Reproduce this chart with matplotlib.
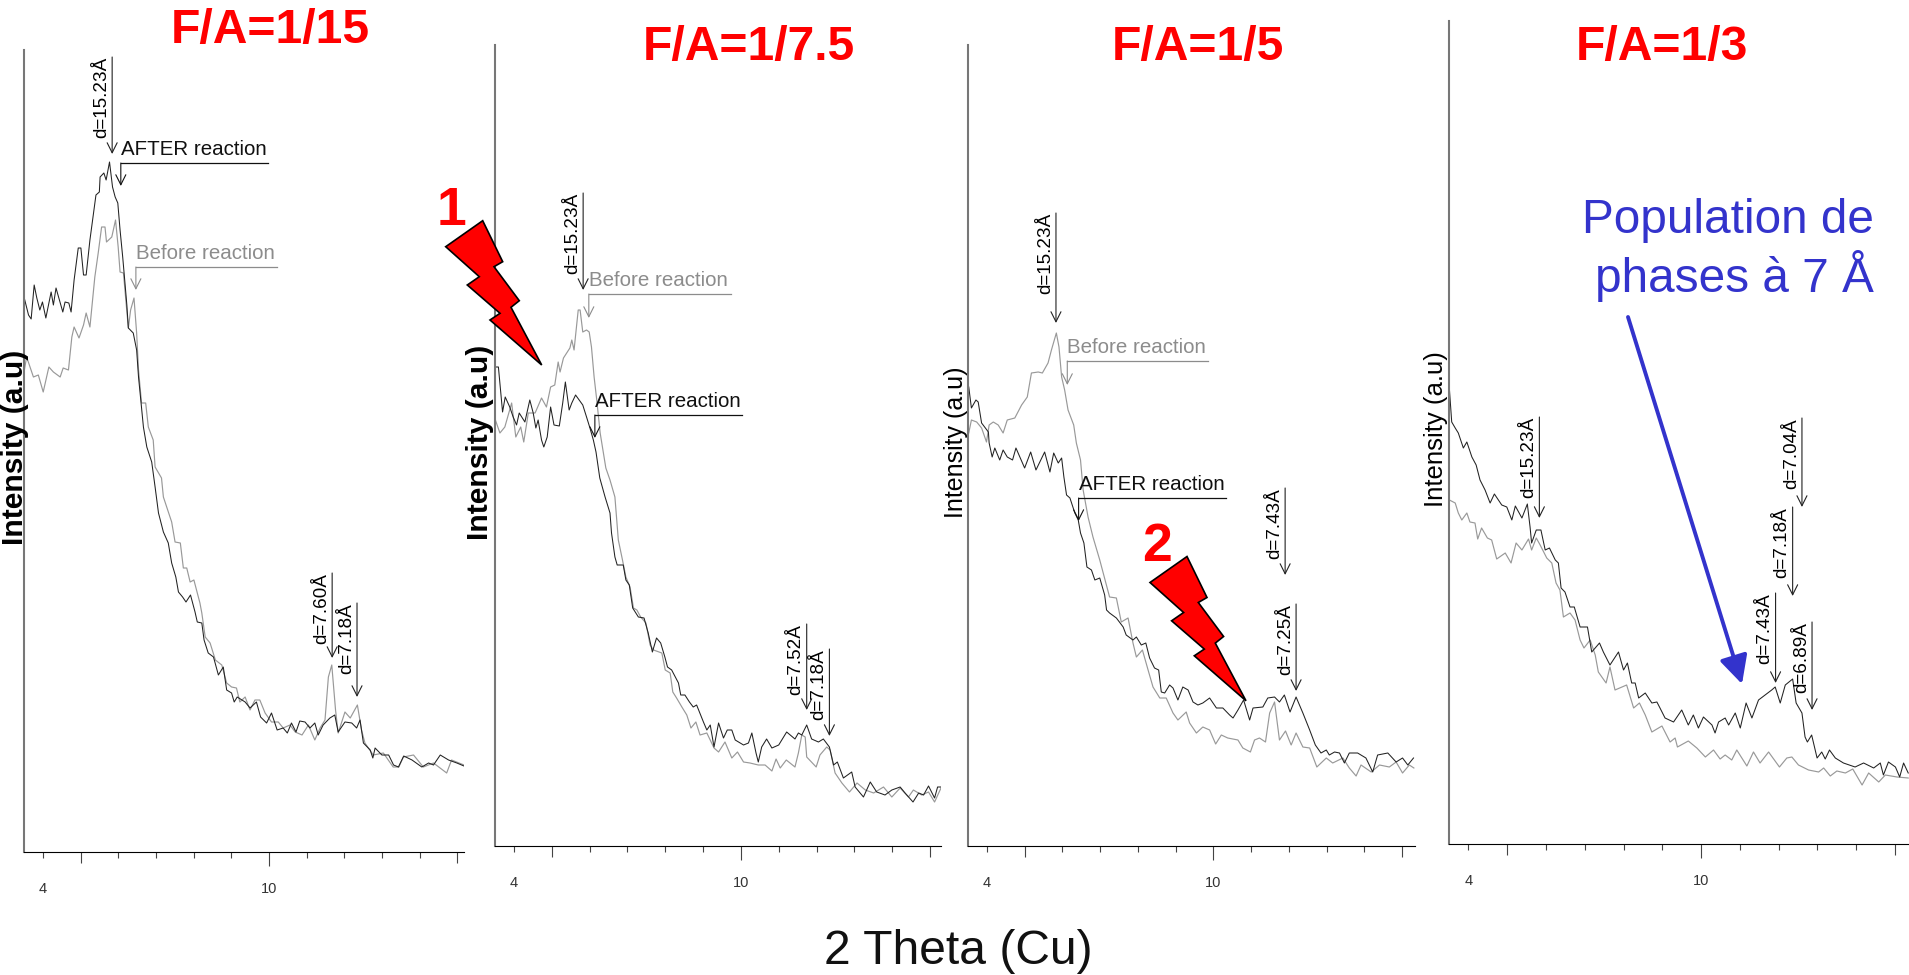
import numpy as np
import matplotlib
matplotlib.use('Agg')
import matplotlib.pyplot as plt
from matplotlib.patches import Polygon

plt.rcParams['font.family'] = ['Liberation Sans', 'DejaVu Sans']

# (2 theta, intensity)
fa15_after = [(3.50,555),(3.62,537),(3.69,533),(3.77,567),(3.84,554),(3.92,542),(3.99,550),(4.08,534),(4.22,560),(4.28,547),
    (4.35,564),(4.44,552),(4.53,540),(4.59,550),(4.69,549),(4.75,540),(4.83,572),(4.94,604),(5.01,604),(5.08,577),
    (5.15,577),(5.25,612),(5.41,657),(5.50,660),(5.52,675),(5.62,679),(5.68,672),(5.77,690),(5.85,665),(5.92,655),
    (5.99,649),(6.05,622),(6.12,595),(6.18,569),(6.23,547),(6.27,524),(6.40,519),(6.49,502),(6.54,475),(6.60,452),
    (6.67,425),(6.76,405),(6.89,390),(6.98,365),(7.07,339),(7.20,320),(7.33,309),(7.42,289),(7.53,275),(7.60,260),
    (7.71,255),(7.80,250),(7.92,257),(8.04,240),(8.10,230),(8.22,229),(8.28,212),(8.39,199),(8.53,195),(8.66,177),
    (8.79,185),(8.88,162),(9.01,159),(9.08,150),(9.16,155),(9.37,150),(9.50,144),(9.67,150),(9.78,135),(9.94,129),
    (10.07,139),(10.22,122),(10.38,124),(10.49,119),(10.60,129),(10.72,120),(10.82,131),(10.96,130),(11.09,124),(11.22,129),
    (11.31,117),(11.44,127),(11.62,134),(11.75,137),(11.84,120),(12.02,130),(12.20,129),(12.33,124),(12.42,132),(12.51,109),
    (12.69,102),(12.76,94),(12.82,104),(13.00,97),(13.18,97),(13.31,87),(13.44,85),(13.58,96),(13.80,92),(14.06,85),
    (14.24,89),(14.37,87),(14.55,97),(14.77,92),(14.99,89),(15.18,86)]
fa15_before = [(3.50,480),(3.57,495),(3.75,475),(3.88,477),(4.01,460),(4.16,485),(4.28,480),(4.46,475),(4.54,484),(4.68,482),
    (4.77,515),(4.83,525),(4.96,514),(5.08,527),(5.15,539),(5.25,525),(5.38,575),(5.47,599),(5.56,625),(5.65,625),
    (5.69,610),(5.83,615),(5.93,632),(6.00,605),(6.05,580),(6.14,579),(6.21,549),(6.27,524),(6.33,542),(6.42,554),
    (6.49,519),(6.54,482),(6.62,449),(6.73,449),(6.80,425),(6.93,412),(6.98,385),(7.15,374),(7.20,355),(7.42,330),
    (7.51,310),(7.65,309),(7.73,284),(7.82,284),(7.91,270),(8.01,272),(8.17,249),(8.22,239),(8.31,215),(8.44,209),
    (8.58,192),(8.75,187),(8.88,169),(9.01,165),(9.14,164),(9.23,150),(9.37,155),(9.50,142),(9.63,152),(9.76,152),
    (9.90,139),(10.07,130),(10.25,130),(10.38,124),(10.56,127),(10.70,120),(10.88,117),(11.05,127),(11.22,112),(11.36,124),
    (11.49,132),(11.58,175),(11.67,187),(11.77,142),(11.84,119),(12.02,140),(12.16,134),(12.35,147),(12.46,122),(12.55,109),
    (12.77,97),(13.04,99),(13.30,85),(13.45,85),(13.57,95),(13.84,97),(14.10,85),(14.37,89),(14.72,79),(14.85,92),(15.18,87)]

fa75_after = [(3.51,479),(3.59,479),(3.70,434),(3.77,449),(3.89,439),(3.98,429),(4.07,421),(4.14,433),(4.29,424),(4.42,446),
    (4.51,433),(4.58,418),(4.64,426),(4.73,406),(4.79,399),(4.88,409),(4.97,439),(5.06,421),(5.20,420),(5.29,443),
    (5.36,464),(5.46,436),(5.53,443),(5.63,451),(5.82,441),(5.92,429),(6.01,418),(6.10,406),(6.17,394),(6.27,368),
    (6.41,349),(6.54,333),(6.58,313),(6.67,289),(6.73,281),(6.89,281),(6.96,266),(7.05,261),(7.14,238),(7.29,229),
    (7.44,228),(7.55,213),(7.66,194),(7.77,208),(7.88,203),(7.99,189),(8.06,179),(8.17,176),(8.35,163),(8.41,151),
    (8.52,151),(8.64,144),(8.74,139),(8.83,141),(9.01,124),(9.10,116),(9.19,121),(9.29,99),(9.41,123),(9.54,108),
    (9.64,116),(9.76,116),(9.85,106),(10.07,101),(10.20,103),(10.29,113),(10.40,93),(10.46,84),(10.55,99),(10.68,107),
    (10.82,98),(11.00,101),(11.21,114),(11.43,107),(11.52,113),(11.61,111),(11.74,121),(11.87,107),(12.05,104),(12.18,107),
    (12.34,99),(12.45,81),(12.55,84),(12.71,68),(12.93,74),(13.02,59),(13.24,49),(13.42,64),(13.59,54),(13.81,51),
    (13.99,56),(14.21,59),(14.34,53),(14.55,44),(14.70,53),(14.83,51),(14.96,60),(15.12,48),(15.20,59),(15.29,59)]
fa75_before = [(3.51,426),(3.63,413),(3.76,419),(3.94,443),(4.05,409),(4.18,419),(4.26,404),(4.38,433),(4.56,433),(4.73,448),
    (4.86,439),(4.97,459),(5.08,461),(5.17,484),(5.22,474),(5.31,488),(5.48,498),(5.53,506),(5.59,496),(5.70,536),
    (5.75,536),(5.82,514),(5.92,516),(5.99,514),(6.05,499),(6.12,469),(6.19,446),(6.28,413),(6.43,378),(6.54,366),
    (6.67,349),(6.76,306),(6.87,286),(6.96,269),(7.07,259),(7.16,238),(7.25,236),(7.35,229),(7.49,223),(7.60,201),
    (7.69,196),(7.91,193),(8.00,176),(8.13,173),(8.20,154),(8.30,148),(8.44,139),(8.57,131),(8.68,118),(8.81,124),
    (8.92,111),(9.10,113),(9.29,98),(9.41,94),(9.58,104),(9.76,88),(9.91,94),(10.07,84),(10.24,83),(10.46,81),
    (10.64,81),(10.82,75),(10.93,87),(11.04,78),(11.20,86),(11.43,79),(11.52,93),(11.61,111),(11.70,109),(11.74,89),
    (11.99,79),(12.09,91),(12.27,99),(12.36,96),(12.49,73),(12.67,63),(12.87,54),(13.07,63),(13.29,56),(13.51,53),
    (13.77,59),(13.99,49),(14.21,58),(14.43,49),(14.56,56),(14.78,51),(14.96,54),(15.12,44),(15.29,58)]

fa5_after = [(3.52,459),(3.59,438),(3.71,446),(3.77,444),(3.86,423),(4.04,414),(4.06,403),(4.14,389),(4.21,398),(4.34,386),
    (4.43,396),(4.54,389),(4.68,386),(4.77,398),(5.00,378),(5.16,394),(5.30,376),(5.53,394),(5.67,374),(5.77,393),
    (5.89,383),(5.98,388),(6.04,369),(6.11,351),(6.20,348),(6.33,333),(6.42,326),(6.48,313),(6.57,303),(6.65,279),
    (6.77,276),(6.86,266),(6.99,268),(7.12,251),(7.17,236),(7.25,233),(7.43,228),(7.61,219),(7.69,211),(7.87,206),
    (7.96,209),(8.09,201),(8.21,203),(8.31,188),(8.44,178),(8.55,176),(8.62,154),(8.71,153),(8.84,161),(8.93,158),
    (9.06,146),(9.19,159),(9.33,156),(9.46,144),(9.59,141),(9.72,143),(9.90,148),(10.08,138),(10.25,138),(10.43,131),
    (10.52,128),(10.65,136),(10.80,146),(10.96,126),(11.05,138),(11.31,139),(11.44,148),(11.62,149),(11.75,144),(11.88,151),
    (12.03,134),(12.19,149),(12.37,133),(12.55,116),(12.70,101),(12.85,93),(12.99,96),(13.07,91),(13.21,94),(13.34,93),
    (13.47,83),(13.60,93),(13.82,93),(14.04,88),(14.22,74),(14.35,91),(14.62,93),(14.84,84),(15.01,88),(15.15,81),(15.30,88)]
fa5_before = [(3.52,413),(3.59,426),(3.73,424),(3.86,418),(3.99,404),(4.06,421),(4.17,424),(4.30,421),(4.43,413),(4.54,426),
    (4.74,428),(4.92,441),(5.07,449),(5.18,473),(5.36,474),(5.47,473),(5.62,483),(5.71,496),(5.84,513),(5.91,499),
    (5.98,469),(6.06,456),(6.15,436),(6.30,421),(6.37,403),(6.48,386),(6.55,356),(6.68,329),(6.81,309),(6.99,286),
    (7.25,249),(7.43,248),(7.56,224),(7.74,228),(7.87,203),(7.96,189),(8.12,196),(8.27,176),(8.40,159),(8.58,148),
    (8.75,148),(8.93,133),(9.06,126),(9.28,134),(9.37,123),(9.55,113),(9.72,119),(9.90,116),(10.06,102),(10.21,111),
    (10.38,108),(10.65,106),(10.78,98),(10.98,94),(11.09,106),(11.22,108),(11.38,104),(11.49,133),(11.62,144),(11.75,106),
    (11.91,115),(12.06,101),(12.19,113),(12.37,99),(12.55,98),(12.74,79),(12.99,88),(13.16,83),(13.43,88),(13.60,78),
    (13.78,70),(13.91,81),(14.18,74),(14.40,81),(14.66,79),(14.84,84),(15.01,73),(15.19,81),(15.31,78)]

fa3_after = [(3.51,455),(3.57,422),(3.66,416),(3.74,411),(3.87,396),(3.96,402),(4.09,387),(4.20,379),(4.30,364),(4.43,354),
    (4.56,341),(4.67,350),(4.86,339),(4.99,337),(5.12,324),(5.21,338),(5.38,326),(5.52,340),(5.59,317),(5.63,301),
    (5.75,314),(5.87,314),(5.98,294),(6.09,296),(6.24,284),(6.32,281),(6.39,256),(6.49,252),(6.62,237),(6.73,237),
    (6.88,217),(7.07,217),(7.18,192),(7.38,201),(7.48,192),(7.65,179),(7.87,192),(8.00,174),(8.10,181),(8.21,161),
    (8.30,161),(8.39,146),(8.56,151),(8.73,141),(8.86,142),(8.94,136),(9.07,126),(9.29,122),(9.50,134),(9.67,119),
    (9.80,129),(9.93,116),(10.06,127),(10.28,119),(10.36,111),(10.45,122),(10.62,126),(10.71,119),(10.88,131),(11.01,116),
    (11.16,141),(11.31,126),(11.48,144),(11.82,154),(11.91,157),(12.04,141),(12.17,159),(12.36,165),(12.45,141),(12.60,131),
    (12.68,107),(12.74,102),(12.85,109),(12.99,86),(13.11,92),(13.20,85),(13.31,94),(13.46,86),(13.67,81),(13.97,77),
    (14.19,81),(14.45,76),(14.62,81),(14.70,69),(14.83,82),(15.01,77),(15.12,67),(15.22,81),(15.34,71)]
fa3_before = [(3.51,344),(3.66,341),(3.74,331),(3.83,324),(3.96,331),(4.04,322),(4.17,321),(4.24,305),(4.34,316),(4.49,306),
    (4.60,304),(4.73,285),(4.95,291),(5.10,281),(5.23,301),(5.38,294),(5.55,305),(5.63,294),(5.75,306),(5.85,299),
    (6.02,286),(6.15,281),(6.26,261),(6.36,254),(6.45,227),(6.62,231),(6.75,224),(6.88,204),(6.98,196),(7.14,204),
    (7.27,189),(7.35,172),(7.55,161),(7.65,177),(7.78,154),(8.08,159),(8.26,136),(8.41,141),(8.56,129),(8.73,112),
    (8.99,118),(9.20,102),(9.33,106),(9.39,97),(9.67,103),(9.89,96),(10.11,87),(10.32,94),(10.49,85),(10.62,89),
    (10.79,84),(10.92,94),(11.18,78),(11.35,92),(11.52,81),(11.74,92),(12.02,77),(12.21,86),(12.34,87),(12.51,79),
    (12.77,74),(13.03,72),(13.16,76),(13.33,68),(13.50,73),(13.72,71),(13.91,75),(14.15,59),(14.32,71),(14.58,62),
    (14.75,69),(15.05,67),(15.34,66)]

# peak markers: label, 2 theta, top of the arrow, tip of the arrow
fa15_peaks = [('d=15.23Å',5.84,795,698),('d=7.60Å',11.68,279,194),('d=7.18Å',12.34,249,155)]
fa75_peaks = [('d=15.23Å',5.83,653,556),('d=7.52Å',11.74,222,136),('d=7.18Å',12.34,197,110)]
fa5_peaks = [('d=15.23Å',5.83,633,523),('d=7.43Å',11.90,358,271),('d=7.25Å',12.19,242,155)]
fa3_peaks = [('d=15.23Å',5.83,427,326),('d=7.43Å',11.92,251,161),('d=7.18Å',12.36,337,248),('d=7.04Å',12.60,426,337),('d=6.89Å',12.86,222,134)]

# curve labels: text, colour, arrow 2 theta, end of underline, underline height, arrow tip
fa15_labels = [('AFTER reaction','#111111',6.07,9.98,689,666),('Before reaction','#8c8c8c',6.47,10.22,585,562)]
fa75_labels = [('AFTER reaction','#111111',6.14,10.02,431,408),('Before reaction','#8c8c8c',5.98,9.74,552,528)]
fa5_labels = [('AFTER reaction','#111111',6.43,10.34,348,325),('Before reaction','#8c8c8c',6.13,9.87,485,461)]

W, H = 1909, 975
ticks = list(range(4, 16))
tick_labels = ['4', '', '', '', '', '', '10', '', '', '', '', '']


def panel(left, right, top, bottom, xmin, xmax, after, before, peaks, labels):
    ax = fig.add_axes([left / W, 1 - bottom / H, (right - left) / W, (bottom - top) / H])
    ax.set_xlim(xmin, xmax)
    ax.set_ylim(0, bottom - top)
    ax.plot(*np.array(before).T, color='#999999', lw=0.85)
    ax.plot(*np.array(after).T, color='#222222', lw=0.75)
    for s in ['top', 'right']:
        ax.spines[s].set_visible(False)
    ax.spines['left'].set_color('#777777')
    ax.spines['left'].set_linewidth(1.5)
    ax.spines['bottom'].set_linewidth(0.8)
    ax.set_yticks([])
    ax.set_xticks(ticks)
    ax.set_xticklabels(tick_labels, fontsize=10.5, color='#333333')
    ax.tick_params(axis='x', length=4.3, width=0.8, color='#444444', pad=17)
    for t, v in zip(ax.xaxis.get_major_ticks(), ticks):
        if v == 10:
            t.tick1line.set_markersize(10)
        elif v % 5 == 0:
            t.tick1line.set_markersize(8)
    for label, x, y0, y1 in peaks:
        ax.annotate('', xy=(x, y1), xytext=(x, y0),
                    arrowprops=dict(arrowstyle='->,head_length=0.72,head_width=0.36', mutation_scale=10,
                                    color='#222222', lw=0.8, shrinkA=0, shrinkB=0))
        ax.annotate(label, xy=(x, y0), xytext=(-1.5, 0), textcoords='offset points',
                    rotation=90, ha='right', va='top', fontsize=13.6, color='black')
    for label, c, x0, x1, y, tip in labels:
        ax.plot([x0, x1], [y, y], color=c, lw=0.9)
        ax.annotate('', xy=(x0, tip), xytext=(x0, y),
                    arrowprops=dict(arrowstyle='->,head_length=0.72,head_width=0.36', mutation_scale=10,
                                    color=c, lw=0.8, shrinkA=0, shrinkB=0))
        ax.annotate(label, xy=(x0, y), xytext=(0, 6), textcoords='offset points',
                    ha='left', va='baseline', fontsize=14.8, color=c)
    return ax


fig = plt.figure(figsize=(W / 100, H / 100), dpi=100)

panel(24, 464, 50, 852, 3.50, 15.18, fa15_after, fa15_before, fa15_peaks, fa15_labels)
panel(495, 941, 45, 846, 3.50, 15.29, fa75_after, fa75_before, fa75_peaks, fa75_labels)
panel(968, 1415, 45, 846, 3.50, 15.34, fa5_after, fa5_before, fa5_peaks, fa5_labels)
panel(1449, 1909, 21, 844, 3.50, 15.36, fa3_after, fa3_before, fa3_peaks, [])

# slide-level decorations in image pixels
over = fig.add_axes([0, 0, 1, 1], zorder=5)
over.set_xlim(0, W)
over.set_ylim(H, 0)
over.axis('off')

for txt, x, y in [('F/A=1/15', 270, 43), ('F/A=1/7.5', 749, 60), ('F/A=1/5', 1198, 60), ('F/A=1/3', 1662, 60)]:
    over.text(x, y, txt, color='#ff0000', fontsize=34.6, fontweight='bold', ha='center', va='baseline')

for x, y, size, weight in [(23, 545, 21.6, 'bold'), (488, 540, 21.6, 'bold'), (963, 518, 18, 'normal'), (1443, 507, 18.5, 'normal')]:
    over.text(x, y, 'Intensity (a.u)', rotation=90, rotation_mode='anchor', ha='left', va='baseline',
              fontsize=size, fontweight=weight, color='black')

over.text(958, 964, '2 Theta (Cu)', fontsize=34.6, ha='center', va='baseline', color='#111111')

over.text(1874, 233, 'Population de', fontsize=34.4, color='#3333cc', ha='right', va='baseline')
over.text(1874, 292, 'phases à 7 Å', fontsize=34.4, color='#3333cc', ha='right', va='baseline')
over.annotate('', xy=(1742, 684), xytext=(1628, 317),
              arrowprops=dict(arrowstyle='-|>,head_length=1.7,head_width=0.86', mutation_scale=10,
                              color='#3333cc', lw=2.8, shrinkA=0, shrinkB=0))

bolt_x = np.array([482.7, 502.7, 494, 519.3, 511, 541.7, 490, 500, 467.3, 479.3, 445.7])
bolt_y = np.array([220.7, 261.7, 266.7, 300.7, 307.3, 365, 320, 313.3, 285, 276.7, 246.7])
for dx, dy in [(0, 0), (704.3, 335.8)]:
    over.add_patch(Polygon(np.c_[bolt_x + dx, bolt_y + dy], closed=True, facecolor='#ff0000',
                           edgecolor='black', lw=1.2))
over.text(452, 225, '1', color='#ff0000', fontsize=38.5, fontweight='bold', ha='center', va='baseline')
over.text(1157, 561, '2', color='#ff0000', fontsize=38.5, fontweight='bold', ha='center', va='baseline')

fig.savefig('out.png', dpi=100)
